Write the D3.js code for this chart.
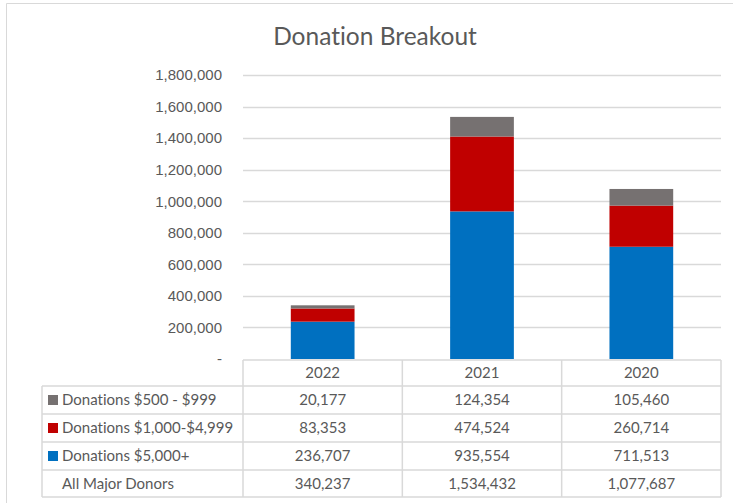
<!DOCTYPE html>
<html>
<head>
<meta charset="utf-8">
<script src="https://cdn.jsdelivr.net/npm/d3@7"></script>
<style>
body { margin: 0; background: #fff; }
svg { font-family: Lato, "Open Sans", sans-serif; font-variant-ligatures: none; }
.axis path, .axis line { display: none; }
.axis text { fill: #595959; font-size: 15px; }
</style>
</head>
<body>
<div id="chart"></div>
<script>
/* data */
var years = ["2022", "2021", "2020"];
var seriesNames = ["Donations $500 - $999", "Donations $1,000-$4,999", "Donations $5,000+"];
var seriesColors = ["#767171", "#C00000", "#0070C0"];
var small = [20177, 124354, 105460];
var mid = [83353, 474524, 260714];
var large = [236707, 935554, 711513];
var totals = [340237, 1534432, 1077687];
var yTicks = [0, 200000, 400000, 600000, 800000, 1000000, 1200000, 1400000, 1600000, 1800000];

var w = 733, h = 503;
var plotLeft = 243, plotRight = 721, plotTop = 75, plotBase = 359;
var rowH = [26, 28, 28, 28, 27];
var labelLeft = 42;
var fs = "15px";

var svg = d3.select("#chart").append("svg").attr("width", w).attr("height", h);

/* chart frame */
svg.append("path")
	.attr("d", "M6.5," + h + " V3.5 H" + w)
	.attr("fill", "none")
	.attr("stroke", "#D9D9D9")
	.attr("stroke-width", 1);

svg.append("text")
	.attr("x", 375)
	.attr("y", 45)
	.attr("text-anchor", "middle")
	.style("font-size", "24.5px")
	.style("fill", "#595959")
	.text("Donation Breakout");

var xScale = d3.scaleBand().domain(years).range([plotLeft, plotRight]);
var yScale = d3.scaleLinear().domain([0, 1800000]).range([plotBase, plotTop]);

/* gridlines */
svg.append("g").selectAll("line").data(yTicks.slice(1)).enter()
	.append("line")
	.attr("x1", plotLeft).attr("x2", plotRight)
	.attr("y1", function (d) { return Math.round(yScale(d)) + 0.5; })
	.attr("y2", function (d) { return Math.round(yScale(d)) + 0.5; })
	.attr("stroke", "#D9D9D9")
	.attr("stroke-width", 1.3);

var yAxis = d3.axisLeft(yScale)
	.tickValues(yTicks)
	.tickSize(0)
	.tickPadding(0)
	.tickFormat(function (d) { return d === 0 ? "-" : d3.format(",")(d); });

svg.append("g")
	.attr("class", "axis")
	.attr("transform", "translate(222,0)")
	.call(yAxis);

/* stacked bars */
var rows = years.map(function (y, i) {
	return { year: y, large: large[i], mid: mid[i], small: small[i] };
});
var stack = d3.stack().keys(["large", "mid", "small"]);
var layers = stack(rows);
var layerColor = { large: seriesColors[2], mid: seriesColors[1], small: seriesColors[0] };
var barW = xScale.bandwidth() * 0.4;

svg.append("g").selectAll("g").data(layers).enter()
	.append("g")
	.attr("fill", function (d) { return layerColor[d.key]; })
	.selectAll("rect").data(function (d) { return d; }).enter()
	.append("rect")
	.attr("x", function (d) { return xScale(d.data.year) + (xScale.bandwidth() - barW) / 2; })
	.attr("width", barW)
	.attr("y", function (d) { return yScale(d[1]); })
	.attr("height", function (d) { return yScale(d[0]) - yScale(d[1]); });

/* data table */
var rowY = [plotBase + 1];
for (var i = 0; i < rowH.length; ++i) rowY.push(rowY[i] + rowH[i]);

var tableRows = [
	{ name: seriesNames[0], color: seriesColors[0], vals: small },
	{ name: seriesNames[1], color: seriesColors[1], vals: mid },
	{ name: seriesNames[2], color: seriesColors[2], vals: large },
	{ name: "All Major Donors", color: null, vals: totals }
];

var tbl = svg.append("g");
var lineColor = "#D9D9D9";

/* horizontal rules */
rowY.forEach(function (y, i) {
	tbl.append("line")
		.attr("x1", i === 0 ? plotLeft : labelLeft)
		.attr("x2", plotRight)
		.attr("y1", y).attr("y2", y)
		.attr("stroke", lineColor).attr("stroke-width", 1.5);
});
/* vertical rules */
tbl.append("line").attr("x1", labelLeft).attr("x2", labelLeft)
	.attr("y1", rowY[1]).attr("y2", rowY[5])
	.attr("stroke", lineColor).attr("stroke-width", 1.5);
[plotLeft].concat(years.map(function (y) { return xScale(y) + xScale.bandwidth(); })).forEach(function (x) {
	tbl.append("line").attr("x1", x).attr("x2", x)
		.attr("y1", rowY[0]).attr("y2", rowY[5])
		.attr("stroke", lineColor).attr("stroke-width", 1.5);
});

/* header */
tbl.selectAll("text.hdr").data(years).enter()
	.append("text")
	.attr("class", "hdr")
	.attr("x", function (d) { return xScale(d) + xScale.bandwidth() / 2; })
	.attr("y", (rowY[0] + rowY[1]) / 2)
	.attr("dy", "0.35em")
	.attr("text-anchor", "middle")
	.style("font-size", fs)
	.style("fill", "#595959")
	.text(function (d) { return d; });

tableRows.forEach(function (r, i) {
	var cy = (rowY[i + 1] + rowY[i + 2]) / 2;
	if (r.color) {
		tbl.append("rect")
			.attr("x", 48).attr("y", cy - 5)
			.attr("width", 10).attr("height", 10)
			.attr("fill", r.color);
	}
	tbl.append("text")
		.attr("x", 62).attr("y", cy)
		.attr("dy", "0.35em")
		.style("font-size", fs)
		.style("fill", "#595959")
		.text(r.name);
	years.forEach(function (y, j) {
		tbl.append("text")
			.attr("x", xScale(y) + xScale.bandwidth() / 2)
			.attr("y", cy)
			.attr("dy", "0.35em")
			.attr("text-anchor", "middle")
			.style("font-size", fs)
			.style("fill", "#595959")
			.text(d3.format(",")(r.vals[j]));
	});
});
</script>
</body>
</html>
